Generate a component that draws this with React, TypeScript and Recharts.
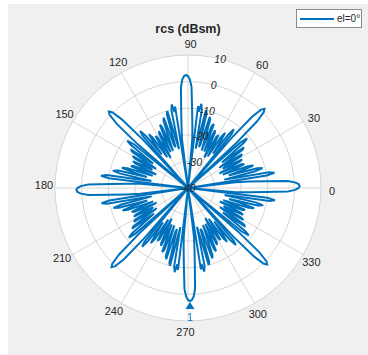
import React from "react";
import {
  RadarChart,
  Radar,
  PolarGrid,
  PolarAngleAxis,
  PolarRadiusAxis,
  Legend,
} from "recharts";

// rcs (dBsm) read per degree for 0..90, the other quadrants mirror it
const QUADRANT_RCS = [
  2.0, 1.6, 0.3, -2.5, -11, -17, -22, -40, -10, -7,
  -9, -22, -26, -14, -11, -13, -24, -19, -14, -16,
  -26, -22, -17, -18, -27, -23, -18, -17, -25, -24,
  -17, -16, -26, -22, -15, -14, -24, -20, -13, -11,
  -14, -40, -15, -4, 0.3, 1.4, 0.3, -4, -15, -40,
  -14, -12, -15, -24, -19, -15, -17, -26, -22, -17,
  -18, -27, -23, -17, -16, -25, -21, -14, -15, -25,
  -20, -13, -12, -23, -24, -11, -10, -21, -25, -10,
  -8, -11, -9, -40, -21.5, -16.5, -10.5, -2, 0.8, 2.1,
  2.5,
];
const ANGLE_LABELS = [0, 30, 60, 90, 120, 150, 180, 210, 240, 270, 300, 330];
const RADIUS_DOMAIN = [-40, 10];
const MARKER_ANGLES = [270];
const MARKER_LABELS = ["1"];
const SERIES_NAME = "el=0°";
const TITLE = "rcs (dBsm)";

const BLUE = "#0072BD";
const GRID = "#d6d6d6";
const TEXT = "#262626";
const FONT = "'Liberation Sans', Arial, sans-serif";

const ANGLES = Array.from({ length: 360 }, (_, i) => i);

const foldAngle = (a: number) => {
  if (a <= 90) return a;
  if (a <= 180) return 180 - a;
  if (a <= 270) return a - 180;
  return 360 - a;
};

const data = ANGLES.map((a) => ({ angle: a, rcs: QUADRANT_RCS[foldAngle(a)] }));

const renderAngleTick = (props: any) => {
  const { x, y, payload, index } = props;
  if (!ANGLE_LABELS.includes(Number(payload.value))) return <g key={`at-${index}`} />;
  return (
    <text
      key={`at-${index}`}
      x={x}
      y={y}
      textAnchor="middle"
      dominantBaseline="central"
      fill={TEXT}
      fontSize={11}
      fontFamily={FONT}
    >
      {payload.value}
    </text>
  );
};

const renderRadiusTick = (props: any) => {
  const { x, y, payload, index } = props;
  return (
    <text
      key={`rt-${index}`}
      x={x}
      y={y}
      textAnchor="middle"
      dominantBaseline="central"
      fill={TEXT}
      fontSize={10.5}
      fontStyle="italic"
      fontFamily={FONT}
    >
      {payload.value}
    </text>
  );
};

const renderMarker = (props: any) => {
  const { cx, cy, index } = props;
  const m = MARKER_ANGLES.indexOf(ANGLES[index]);
  if (m < 0) return <g key={`m-${index}`} />;
  return (
    <g key={`m-${index}`}>
      <polygon
        points={`${cx},${cy + 1} ${cx - 4.5},${cy + 8} ${cx + 4.5},${cy + 8}`}
        fill={BLUE}
      />
      <text
        x={cx}
        y={cy + 16}
        textAnchor="middle"
        dominantBaseline="central"
        fill={BLUE}
        fontSize={10}
        fontFamily={FONT}
      >
        {MARKER_LABELS[m]}
      </text>
    </g>
  );
};

const renderLegend = () => (
  <div
    style={{
      width: 66,
      height: 19,
      boxSizing: "border-box",
      border: "1px solid #8a8a8a",
      background: "#fff",
      display: "flex",
      alignItems: "center",
      fontFamily: FONT,
      fontSize: 10,
      color: TEXT,
    }}
  >
    <svg width={40} height={10}>
      <line x1={3} y1={5} x2={37} y2={5} stroke={BLUE} strokeWidth={2} />
    </svg>
    <span>{SERIES_NAME}</span>
  </div>
);

export default function App() {
  return (
    <div style={{ position: "absolute", left: 0, top: 0, width: 368, height: 355, background: "#fff" }}>
      <div style={{ position: "absolute", left: 8, top: 4, right: 0, bottom: 0, background: "#f0f0f0" }} />
      <div
        style={{
          position: "absolute",
          left: 55,
          top: 55,
          width: 266,
          height: 266,
          borderRadius: "50%",
          background: "#fff",
        }}
      />
      <div
        style={{
          position: "absolute",
          left: 0,
          top: 22,
          width: 376,
          textAlign: "center",
          fontFamily: FONT,
          fontWeight: "bold",
          fontSize: 12.5,
          color: TEXT,
        }}
      >
        {TITLE}
      </div>
      <div style={{ position: "absolute", left: 0, top: 0 }}>
        <RadarChart
          width={368}
          height={355}
          data={data}
          cx={188}
          cy={188}
          outerRadius={133}
          startAngle={0}
          endAngle={360}
          margin={{ top: 0, right: 0, bottom: 0, left: 0 }}
        >
          <PolarGrid gridType="circle" polarAngles={ANGLE_LABELS} stroke={GRID} strokeWidth={1} />
          <PolarAngleAxis
            dataKey="angle"
            tick={renderAngleTick}
            tickLine={false}
            axisLine={false}
            tickSize={11}
          />
          <Radar
            name={SERIES_NAME}
            dataKey="rcs"
            stroke={BLUE}
            strokeWidth={2}
            fill="none"
            fillOpacity={0}
            dot={renderMarker}
            isAnimationActive={false}
          />
          <PolarRadiusAxis
            angle={76}
            type="number"
            domain={RADIUS_DOMAIN}
            tickCount={6}
            tick={renderRadiusTick}
            axisLine={false}
            tickLine={false}
          />
          <Legend
            content={renderLegend}
            wrapperStyle={{ position: "absolute", left: 296, top: 9, bottom: "auto", width: 66 }}
          />
        </RadarChart>
      </div>
    </div>
  );
}
